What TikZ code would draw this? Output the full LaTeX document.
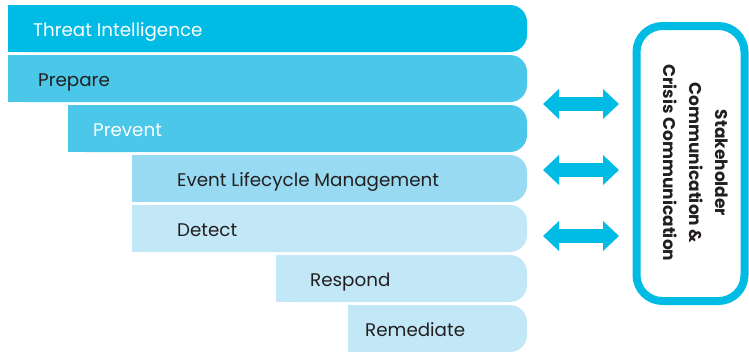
\documentclass[tikz,border=0pt]{standalone}
\usepackage{fontspec}
\setmainfont{Poppins}
\usetikzlibrary{arrows.meta}
\definecolor{cyanA}{HTML}{00BBE3}
\definecolor{cyanB}{HTML}{4AC7E9}
\definecolor{cyanC}{HTML}{97DAF1}
\definecolor{cyanD}{HTML}{C2E7F6}
\definecolor{ink}{HTML}{231F20}
\tikzset{
  stagetext/.style={anchor=base west, inner sep=0pt, font=\fontsize{18.3}{18.3}\selectfont, text=#1},
  linkarrow/.style={draw=cyanA, line width=14pt,
    {Triangle[length=16pt,width=29pt]}-{Triangle[length=16pt,width=29pt]}},
  commbox/.style={draw=cyanA, line width=8pt, rounded corners=26pt,
    minimum width=108pt, minimum height=275pt, inner sep=0pt},
}
\begin{document}
\begin{tikzpicture}[x=1pt,y=-1pt]
\useasboundingbox (0,0) rectangle (749,351);
% stage bars: left edge / top edge / colour, all ending with a rounded right end
\foreach \x/\t/\c in {8/5/cyanA, 8/55/cyanB, 68/105/cyanB, 132/155/cyanC,
                      132/205/cyanD, 276/255/cyanD, 348/305/cyanD}{
  \fill[\c, rounded corners=17pt] (\x,\t) rectangle (527,\t+47);
  \fill[\c] (\x,\t) rectangle (500,\t+47);
}
\node[stagetext=white] (ti) at (33,36)  {Threat Intelligence};
\node[stagetext=ink]   (pr) at (38,86)  {Prepare};
\node[stagetext=white] (pv) at (93,136) {Prevent};
\node[stagetext=ink]   (el) at (177,186) {Event Lifecycle Management};
\node[stagetext=ink]   (de) at (177,236) {Detect};
\node[stagetext=ink]   (rs) at (310,286) {Respond};
\node[stagetext=ink]   (rm) at (365,336) {Remediate};
% communication box
\node[commbox] (sc) at (690.5,163.5) {};
\node[rotate=-90, align=center, inner sep=0pt, text=ink,
      font=\bfseries\fontsize{17}{26}\selectfont] (sct) at (696,163)
  {Stakeholder\\Communication \&\\Crisis Communication};
% two-way links between stages and the box
\coordinate (l1) at (543,104); \coordinate (r1) at (619,104);
\coordinate (l2) at (543,170); \coordinate (r2) at (619,170);
\coordinate (l3) at (543,236); \coordinate (r3) at (619,236);
\draw[linkarrow] (l1) -- (r1);
\draw[linkarrow] (l2) -- (r2);
\draw[linkarrow] (l3) -- (r3);
\end{tikzpicture}
\end{document}
